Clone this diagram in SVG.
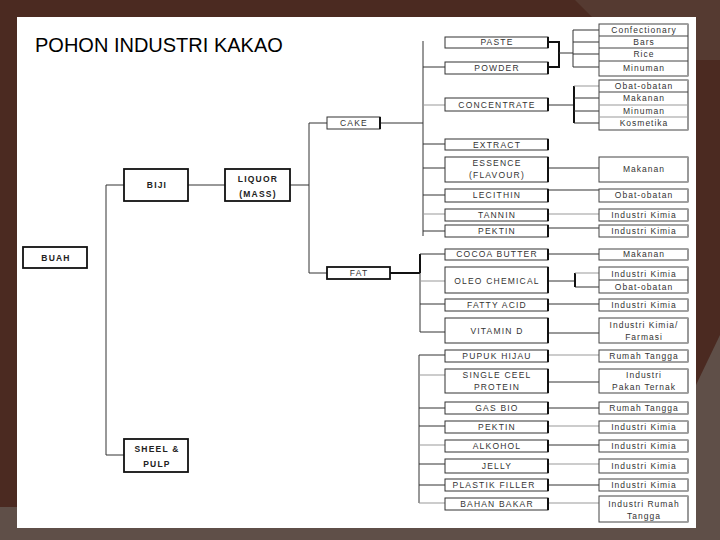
<svg xmlns="http://www.w3.org/2000/svg" width="720" height="540" viewBox="0 0 720 540">
<style>
.bg{fill:#4b2a21}
.bg2{fill:#5f4f48}
.bg3{fill:#553a31}
.slide{fill:#ffffff}
.title{font-family:"Liberation Sans",Arial,sans-serif;font-size:20px;fill:#000}
.lb{fill:#fff;stroke:#111;stroke-width:1.8}
.mb{fill:#fff;stroke:#333;stroke-width:1}
.rb{fill:#fff;stroke:#444;stroke-width:1}
.sm{stroke:#111;stroke-width:2}
.sr{stroke:#999;stroke-width:2}
.sep{stroke:#444;stroke-width:1}
.t{font-family:"Liberation Sans",Arial,sans-serif;font-size:8.5px;fill:#333;text-anchor:middle;letter-spacing:1.2px}
.tr{font-family:"Liberation Sans",Arial,sans-serif;font-size:8.5px;fill:#333;text-anchor:middle;letter-spacing:1px}
.tb{font-family:"Liberation Sans",Arial,sans-serif;font-size:8.5px;font-weight:bold;fill:#222;text-anchor:middle;letter-spacing:1.2px}
.c{fill:none;stroke:#333;stroke-width:1}
.cg{fill:none;stroke:#999;stroke-width:1}
.ct{fill:none;stroke:#111;stroke-width:2}
</style>
<rect class="bg" x="0" y="0" width="720" height="540"/>
<polygon class="bg3" points="575,0 720,0 720,60 696,60 696,17 592,17"/>
<polygon class="bg2" points="0,507 720,507 720,540 0,540"/>
<polygon class="bg2" points="696,385 720,335 720,540 696,540"/>
<rect class="slide" x="17" y="17" width="679" height="511"/>
<text class="title" x="35" y="52">POHON INDUSTRI KAKAO</text>

<g id="connectors">
<path class="c" d="M106,185 V455 M106,185 H124 M106,455 H124"/>
<path class="c" d="M188,185 H225"/>
<path class="c" d="M290,185 H309 M309,123 V273 M309,123 H327 M309,273 H327"/>
<path class="c" d="M380,123 H423 M423,41 V236"/>
<path class="c" d="M423,67 H445 M423,144 H445 M423,168 H445 M423,195 H445 M423,231 H445"/>
<path class="cg" d="M423,105 H445 M423,214 H445"/>
<path class="ct" d="M390,273 H420 M420,254 V273"/>
<path class="c" d="M420,273 V332 M420,254 H445 M420,304 H445 M420,332 H445"/>
<path class="cg" d="M420,281 H445"/>
<path class="c" d="M419,355 V503 M419,355 H445 M419,408 H445 M419,426 H445 M419,464 H445 M419,485 H445"/>
<path class="cg" d="M419,375 H445 M419,445 H445 M419,503 H445"/>
<path class="ct" d="M548,42 H559 V67 H548"/>
<path class="c" d="M559,53 H573 M573,30 V67 M573,30 H599 M573,42 H599 M573,54 H599 M573,67 H599"/>
<path class="c" d="M548,105 H574"/>
<path class="ct" d="M574,86 V123"/>
<path class="c" d="M574,98 H599 M574,111 H599 M574,123 H599"/>
<path class="cg" d="M574,86 H599"/>
<path class="c" d="M548,168 H599 M548,190 H599 M548,228 H599"/>
<path class="cg" d="M548,214 H599"/>
<path class="c" d="M548,254 H599 M548,281 H575 M575,287 H599 M548,304 H599 M548,333 H599"/>
<path class="ct" d="M575,273 V287"/>
<path class="cg" d="M575,273 H599"/>
<path class="cg" d="M548,355 H599 M548,426 H599 M548,464 H599 M548,503 H599"/>
<path class="c" d="M548,382 H599 M548,408 H599 M548,445 H599 M548,485 H599"/>
</g>

<g id="buah"><rect class="lb" x="23" y="247" width="64" height="21"/><text class="tb" x="56" y="261">BUAH</text></g>
<g id="biji"><rect class="lb" x="124" y="169" width="64" height="32"/><text class="tb" x="157" y="188">BIJI</text></g>
<g id="liquor"><rect class="lb" x="225" y="169" width="65" height="32"/><text class="tb" x="258" y="182">LIQUOR</text><text class="tb" x="258" y="197">(MASS)</text></g>
<g id="sheel"><rect class="lb" x="124" y="439" width="64" height="33"/><text class="tb" x="157" y="452">SHEEL &amp;</text><text class="tb" x="157" y="467">PULP</text></g>
<g id="cake"><rect class="mb" x="327" y="117" width="53" height="12"/><line class="sm" x1="380" y1="117" x2="380" y2="129"/><text class="t" x="354" y="126">CAKE</text></g>
<g id="fat"><rect class="lb" x="327" y="267" width="63" height="12"/><text class="t" x="359" y="276">FAT</text></g>

<g id="paste"><rect class="mb" x="445" y="37" width="103" height="11"/><line class="sm" x1="548" y1="37" x2="548" y2="48"/><text class="t" x="497" y="45">PASTE</text></g>
<g id="powder"><rect class="mb" x="445" y="62" width="103" height="12"/><line class="sm" x1="548" y1="62" x2="548" y2="74"/><text class="t" x="497" y="71">POWDER</text></g>
<g id="concentrate"><rect class="mb" x="445" y="98" width="103" height="13"/><line class="sm" x1="548" y1="98" x2="548" y2="111"/><text class="t" x="497" y="108">CONCENTRATE</text></g>
<g id="extract"><rect class="mb" x="445" y="139" width="103" height="11"/><line class="sm" x1="548" y1="139" x2="548" y2="150"/><text class="t" x="497" y="148">EXTRACT</text></g>
<g id="essence"><rect class="mb" x="445" y="157" width="103" height="25"/><line class="sm" x1="548" y1="157" x2="548" y2="182"/><text class="t" x="497" y="166">ESSENCE</text><text class="t" x="497" y="178">(FLAVOUR)</text></g>
<g id="lecithin"><rect class="mb" x="445" y="189" width="103" height="13"/><line class="sm" x1="548" y1="189" x2="548" y2="202"/><text class="t" x="497" y="198">LECITHIN</text></g>
<g id="tannin"><rect class="mb" x="445" y="209" width="103" height="12"/><line class="sm" x1="548" y1="209" x2="548" y2="221"/><text class="t" x="497" y="218">TANNIN</text></g>
<g id="pektin1"><rect class="mb" x="445" y="225" width="103" height="12"/><line class="sm" x1="548" y1="225" x2="548" y2="237"/><text class="t" x="497" y="234">PEKTIN</text></g>
<g id="cocoa-butter"><rect class="mb" x="445" y="249" width="103" height="11"/><line class="sm" x1="548" y1="249" x2="548" y2="260"/><text class="t" x="497" y="257">COCOA BUTTER</text></g>
<g id="oleo-chemical"><rect class="mb" x="445" y="267" width="103" height="26"/><line class="sm" x1="548" y1="267" x2="548" y2="293"/><text class="t" x="497" y="284">OLEO CHEMICAL</text></g>
<g id="fatty-acid"><rect class="mb" x="445" y="299" width="103" height="12"/><line class="sm" x1="548" y1="299" x2="548" y2="311"/><text class="t" x="497" y="308">FATTY ACID</text></g>
<g id="vitamin-d"><rect class="mb" x="445" y="318" width="103" height="25"/><line class="sm" x1="548" y1="318" x2="548" y2="343"/><text class="t" x="497" y="334">VITAMIN D</text></g>
<g id="pupuk-hijau"><rect class="mb" x="445" y="350" width="103" height="12"/><line class="sm" x1="548" y1="350" x2="548" y2="362"/><text class="t" x="497" y="359">PUPUK HIJAU</text></g>
<g id="single-cell-protein"><rect class="mb" x="445" y="369" width="103" height="24"/><line class="sm" x1="548" y1="369" x2="548" y2="393"/><text class="t" x="497" y="378">SINGLE  CEEL</text><text class="t" x="497" y="390">PROTEIN</text></g>
<g id="gas-bio"><rect class="mb" x="445" y="402" width="103" height="12"/><line class="sm" x1="548" y1="402" x2="548" y2="414"/><text class="t" x="497" y="411">GAS BIO</text></g>
<g id="pektin2"><rect class="mb" x="445" y="421" width="103" height="12"/><line class="sm" x1="548" y1="421" x2="548" y2="433"/><text class="t" x="497" y="430">PEKTIN</text></g>
<g id="alkohol"><rect class="mb" x="445" y="440" width="103" height="12"/><line class="sm" x1="548" y1="440" x2="548" y2="452"/><text class="t" x="497" y="449">ALKOHOL</text></g>
<g id="jelly"><rect class="mb" x="445" y="459" width="103" height="14"/><line class="sm" x1="548" y1="459" x2="548" y2="473"/><text class="t" x="497" y="469">JELLY</text></g>
<g id="plastik-filler"><rect class="mb" x="445" y="479" width="103" height="12"/><line class="sm" x1="548" y1="479" x2="548" y2="491"/><text class="t" x="494" y="488">PLASTIK FILLER</text></g>
<g id="bahan-bakar"><rect class="mb" x="445" y="498" width="103" height="12"/><line class="sm" x1="548" y1="498" x2="548" y2="510"/><text class="t" x="497" y="507">BAHAN BAKAR</text></g>

<g id="paste-uses"><rect class="rb" x="599" y="24" width="89" height="52"/><line class="sr" x1="688" y1="24" x2="688" y2="76"/><path class="sep" d="M599,36 H688 M599,48 H688 M599,61 H688"/><text class="tr" x="644" y="33">Confectionary</text><text class="tr" x="644" y="45">Bars</text><text class="tr" x="644" y="57">Rice</text><text class="tr" x="644" y="71">Minuman</text></g>
<g id="concentrate-uses"><rect class="rb" x="599" y="80" width="89" height="50"/><line class="sr" x1="688" y1="80" x2="688" y2="130"/><path class="sep" d="M599,92 H688"/><path class="cg" d="M599,105 H688 M599,117 H688"/><text class="tr" x="644" y="89">Obat-obatan</text><text class="tr" x="644" y="101">Makanan</text><text class="tr" x="644" y="114">Minuman</text><text class="tr" x="644" y="126">Kosmetika</text></g>
<g id="essence-use"><rect class="rb" x="599" y="157" width="89" height="25"/><line class="sr" x1="688" y1="157" x2="688" y2="182"/><text class="tr" x="644" y="172">Makanan</text></g>
<g id="lecithin-use"><rect class="rb" x="599" y="189" width="89" height="13"/><line class="sr" x1="688" y1="189" x2="688" y2="202"/><text class="tr" x="644" y="198">Obat-obatan</text></g>
<g id="tannin-use"><rect class="rb" x="599" y="209" width="89" height="12"/><line class="sr" x1="688" y1="209" x2="688" y2="221"/><text class="tr" x="644" y="218">Industri Kimia</text></g>
<g id="pektin1-use"><rect class="rb" x="599" y="225" width="89" height="12"/><line class="sr" x1="688" y1="225" x2="688" y2="237"/><text class="tr" x="644" y="234">Industri Kimia</text></g>
<g id="cocoa-butter-use"><rect class="rb" x="599" y="249" width="89" height="11"/><line class="sr" x1="688" y1="249" x2="688" y2="260"/><text class="tr" x="644" y="257">Makanan</text></g>
<g id="oleo-uses"><rect class="rb" x="599" y="267" width="89" height="26"/><line class="sr" x1="688" y1="267" x2="688" y2="293"/><path class="sep" d="M599,280 H688"/><text class="tr" x="644" y="277">Industri Kimia</text><text class="tr" x="644" y="290">Obat-obatan</text></g>
<g id="fatty-acid-use"><rect class="rb" x="599" y="299" width="89" height="12"/><line class="sr" x1="688" y1="299" x2="688" y2="311"/><text class="tr" x="644" y="308">Industri Kimia</text></g>
<g id="vitamin-d-use"><rect class="rb" x="599" y="318" width="89" height="25"/><line class="sr" x1="688" y1="318" x2="688" y2="343"/><text class="tr" x="644" y="328">Industri Kimia/</text><text class="tr" x="644" y="340">Farmasi</text></g>
<g id="pupuk-use"><rect class="rb" x="599" y="350" width="89" height="12"/><line class="sr" x1="688" y1="350" x2="688" y2="362"/><text class="tr" x="644" y="359">Rumah Tangga</text></g>
<g id="scp-use"><rect class="rb" x="599" y="369" width="89" height="24"/><line class="sr" x1="688" y1="369" x2="688" y2="393"/><text class="tr" x="644" y="378">Industri</text><text class="tr" x="644" y="390">Pakan Ternak</text></g>
<g id="gas-bio-use"><rect class="rb" x="599" y="402" width="89" height="12"/><line class="sr" x1="688" y1="402" x2="688" y2="414"/><text class="tr" x="644" y="411">Rumah Tangga</text></g>
<g id="pektin2-use"><rect class="rb" x="599" y="421" width="89" height="12"/><line class="sr" x1="688" y1="421" x2="688" y2="433"/><text class="tr" x="644" y="430">Industri Kimia</text></g>
<g id="alkohol-use"><rect class="rb" x="599" y="440" width="89" height="12"/><line class="sr" x1="688" y1="440" x2="688" y2="452"/><text class="tr" x="644" y="449">Industri Kimia</text></g>
<g id="jelly-use"><rect class="rb" x="599" y="459" width="89" height="14"/><line class="sr" x1="688" y1="459" x2="688" y2="473"/><text class="tr" x="644" y="469">Industri Kimia</text></g>
<g id="plastik-use"><rect class="rb" x="599" y="479" width="89" height="12"/><line class="sr" x1="688" y1="479" x2="688" y2="491"/><text class="tr" x="644" y="488">Industri Kimia</text></g>
<g id="bahan-bakar-use"><rect class="rb" x="599" y="496" width="89" height="26"/><line class="sr" x1="688" y1="496" x2="688" y2="522"/><text class="tr" x="644" y="507">Industri Rumah</text><text class="tr" x="644" y="519">Tangga</text></g>
</svg>
